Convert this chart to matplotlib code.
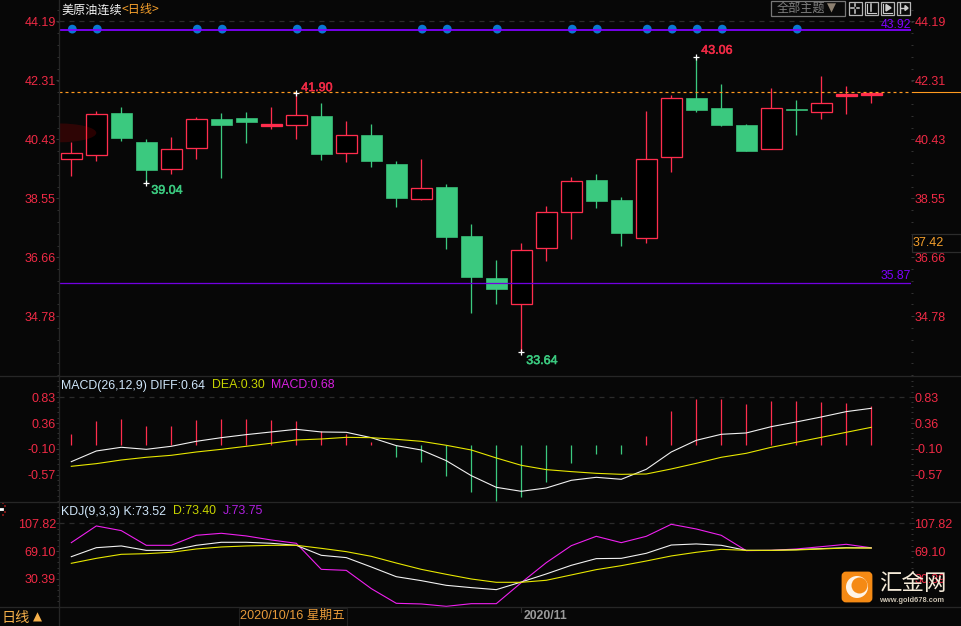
import matplotlib
matplotlib.use("Agg")
import matplotlib.pyplot as plt
import matplotlib.patheffects as pe
from matplotlib.patches import Rectangle, Ellipse, FancyBboxPatch, Circle
from matplotlib.ticker import AutoMinorLocator

# ---------- data ----------
opens = [39.79,39.93,41.26,40.34,39.49,40.16,41.07,41.10,40.85,40.89,41.17,40.00,40.56,39.64,38.53,38.90,37.34,36.00,
         35.18,36.97,38.12,39.13,38.49,37.29,39.87,41.74,41.42,40.88,40.13,41.39,41.31,41.81,41.84]
closes = [39.98,41.22,40.48,39.45,40.11,41.06,40.88,40.98,40.91,41.19,39.96,40.55,39.73,38.55,38.86,37.31,36.03,35.65,
          36.88,38.10,39.09,38.46,37.44,39.79,41.73,41.36,40.88,40.05,41.41,41.37,41.57,41.87,41.90]
highs = [40.33,41.32,41.45,40.44,40.50,41.14,41.27,41.30,41.46,41.90,41.58,41.01,40.91,39.73,39.80,38.99,37.72,36.58,
         37.12,38.30,39.22,39.32,38.58,41.33,41.84,43.06,42.19,40.91,42.06,41.68,42.44,42.13,41.92]
lows = [39.27,39.74,40.38,39.04,39.33,39.81,39.20,40.31,40.75,40.43,39.77,39.71,39.54,38.27,38.50,36.94,34.88,35.17,
        33.64,36.54,37.25,38.23,37.02,37.13,39.38,41.31,40.85,40.05,40.13,40.56,41.07,41.23,41.58]
signal_idx = [0,1,5,6,9,10,14,15,17,20,21,23,24,25,26,29]
upper_level = 43.91
lower_level = 35.85
last_level = 41.92
top_level = 44.19

macd_hist = [0.167,0.402,0.438,0.311,0.311,0.420,0.438,0.438,0.420,0.402,0.221,0.167,0.022,-0.249,-0.340,-0.593,-0.882,
             -1.045,-0.973,-0.701,-0.358,-0.195,-0.195,0.130,0.583,0.800,0.800,0.709,0.763,0.763,0.745,0.727,0.673]
macd_base = -0.026
diff = [-0.334,-0.141,-0.074,-0.111,-0.056,0.034,0.100,0.155,0.203,0.251,0.203,0.197,0.100,-0.044,-0.123,-0.316,-0.587,
        -0.798,-0.870,-0.810,-0.671,-0.617,-0.653,-0.472,-0.159,0.052,0.161,0.185,0.299,0.384,0.474,0.571,0.631]
dea = [-0.418,-0.370,-0.304,-0.255,-0.219,-0.159,-0.111,-0.056,0.000,0.058,0.076,0.106,0.100,0.070,0.034,-0.038,-0.123,
       -0.267,-0.400,-0.478,-0.514,-0.545,-0.563,-0.557,-0.466,-0.364,-0.255,-0.183,-0.074,0.016,0.106,0.197,0.287]

kdj_k = [61.4,73.9,76.3,70.2,70.2,77.2,81.4,81.4,80.0,77.2,63.3,60.1,47.1,33.6,28.1,21.6,18.4,15.6,26.2,37.4,49.4,58.7,
         59.1,66.1,77.6,79.1,77.2,70.2,70.2,71.2,72.6,73.9,73.5]
kdj_d = [52.2,59.1,64.7,65.6,67.5,72.1,74.9,76.3,77.2,77.2,73.0,68.4,61.9,52.6,43.8,36.9,30.4,25.8,25.8,28.6,36.0,43.4,
         48.9,55.4,62.4,67.5,71.6,70.2,70.2,70.7,72.1,73.5,73.4]
kdj_j = [80.9,104.1,97.6,77.2,77.2,91.1,93.9,90.2,84.6,80.0,43.8,42.4,17.0,-3.4,-4.3,-7.6,-3.9,-3.9,25.3,53.1,76.7,89.7,
         80.9,89.7,106.4,99.9,91.1,69.8,70.2,72.1,75.3,78.6,73.75]

main_ticks = [44.19,42.31,40.43,38.55,36.66,34.78]
macd_ticks = [0.83,0.36,-0.10,-0.57]
kdj_ticks = [107.82,69.10,30.39]
main_labels = ["44.19","42.31","40.43","38.55","36.66","34.78"]
macd_labels = ["0.83","0.36","-0.10","-0.57"]
kdj_labels = ["107.82","69.10","30.39"]

# ---------- style ----------
W, H = 961, 626
BG = "#070707"
RED = "#ff2d4d"
TXTRED = "#f02a45"
GREEN = "#3bc97f"
GRID = "#2b2b2b"
BORDER = "#262626"
ORANGE = "#f6a02c"
LATIN = "Liberation Sans"
CJK = ["Noto Sans CJK SC", "DejaVu Sans"]
plt.rcParams["font.family"] = [LATIN, "Noto Sans CJK SC", "DejaVu Sans"]
PX = 72 / 100
XMIN, XMAX = -0.48, 33.59
xs = list(range(len(opens)))

fig = plt.figure(figsize=(W / 100, H / 100), dpi=100, facecolor=BG)


def panel(top, bottom):
    ax = fig.add_axes([59.3 / W, 1 - bottom / H, (911 - 59.3) / W, (bottom - top) / H])
    ax.set_facecolor("none")
    ax.set_xlim(XMIN, XMAX)
    ax.set_xticks([])
    for side in ("top", "bottom", "left", "right"):
        ax.spines[side].set_visible(False)
    return ax


def set_ticks(ax, ticks, labels):
    ax.set_yticks(ticks)
    ax.set_yticklabels(labels, fontsize=9, color=TXTRED)
    ax.yaxis.set_minor_locator(AutoMinorLocator(5))
    ax.tick_params(axis="y", which="major", left=True, right=True, labelleft=True, labelright=True,
                   length=2, width=0.7, color="#3a3a3a", pad=0.5)
    ax.tick_params(axis="y", which="minor", left=True, right=True, length=1.2, width=0.7, color="#333333")


# ---------- main panel ----------
ax = panel(0, 376)
ax.set_ylim(32.875, 44.869)
set_ticks(ax, main_ticks, main_labels)
ax.hlines(top_level, XMIN, XMAX, color=GRID, lw=0.9, linestyles=(0, (4, 4)), zorder=1)
for i in xs:
    up = closes[i] >= opens[i]
    col = RED if up else GREEN
    ax.vlines(i, lows[i], highs[i], color=col, lw=1.3 * PX, zorder=3)
    lo, hi = min(opens[i], closes[i]), max(opens[i], closes[i])
    flat = hi - lo < 0.1
    ax.add_patch(Rectangle((i - 0.41, lo), 0.82, hi - lo, fc=col if (flat or not up) else "#000000", ec=col,
                           lw=1.3 * PX * (1 if up else 0.5), zorder=4))
ax.add_patch(Ellipse((XMIN, 40.63), 2.96, 0.60, fc="#ff0000", alpha=0.16, ec="none", zorder=5))
ax.hlines(last_level, XMIN, XMAX, color="#ff9a1f", lw=1.2 * PX, linestyles=(0, (2.5, 2.5)), zorder=5)
ax.scatter([i + 0.04 for i in signal_idx], [upper_level + 0.03] * len(signal_idx), s=40, color="#0a78d2",
           edgecolors="none", zorder=5)
ax.hlines(upper_level, XMIN, XMAX, color="#7f00ff", lw=1.8 * PX, zorder=6)
ax.hlines(lower_level, XMIN, XMAX, color="#7200e0", lw=1.3 * PX, zorder=6)
for i, val, col, dx, dy in [(9, highs[9], TXTRED, 5, 5), (3, lows[3], GREEN, 5, -8),
                            (25, highs[25], TXTRED, 5, 6), (18, lows[18], GREEN, 5, -9)]:
    ax.plot([i], [val], marker="+", ms=5, mew=0.9, color="white", zorder=7)
    ax.annotate(f"{val:.2f}", (i, val), xytext=(dx, dy), textcoords="offset pixels", color=col, fontsize=9,
                va="center", ha="left", zorder=8,
                path_effects=[pe.withStroke(linewidth=0.4, foreground=col)])

# ---------- MACD panel ----------
ax2 = panel(376, 501.7)
ax2.set_ylim(-1.058, 1.215)
set_ticks(ax2, macd_ticks, macd_labels)
ax2.hlines(macd_ticks[0], XMIN, XMAX, color=GRID, lw=0.9, linestyles=(0, (4, 4)), zorder=1)
for i, v in zip(xs, macd_hist):
    ax2.vlines(i, macd_base, v, color=RED if v > macd_base else GREEN, lw=1.25 * PX, zorder=2)
ax2.plot(xs, diff, color="#f2f2f2", lw=1.1 * PX, zorder=3)
ax2.plot(xs, dea, color="#e8e800", lw=1.1 * PX, zorder=4)

# ---------- KDJ panel ----------
ax3 = panel(501.7, 607.3)
ax3.set_ylim(-8.94, 137.8)
set_ticks(ax3, kdj_ticks, kdj_labels)
ax3.hlines(kdj_ticks[0], XMIN, XMAX, color=GRID, lw=0.9, linestyles=(0, (4, 4)), zorder=1)
ax3.plot(xs, kdj_j, color="#f020f0", lw=1.1 * PX, zorder=3)
ax3.plot(xs, kdj_k, color="#f2f2f2", lw=1.1 * PX, zorder=4)
ax3.plot(xs, kdj_d, color="#e8e800", lw=1.1 * PX, zorder=5)

# ---------- chrome overlay, in pixel coordinates ----------
ov = fig.add_axes([0, 0, 1, 1], zorder=20)
ov.set_xlim(0, W)
ov.set_ylim(H, 0)
ov.axis("off")
ov.patch.set_alpha(0)


def T(x, y, s, color, size=8.8, ha="left", family=None, **kw):
    ov.text(x, y, s, color=color, fontsize=size, ha=ha, va="center", family=family or [LATIN, "Noto Sans CJK SC"], **kw)


for y in (376, 501.7, 607.3):
    ov.plot([0, W], [y, y], color=BORDER, lw=1.3 * PX)
ov.plot([59.3, 59.3], [0, H], color=BORDER, lw=1.3 * PX)
ov.plot([912, W], [92.3, 92.3], color="#ff9a1f", lw=1.1 * PX)

T(61, 10, "美原油连续", "#f4f4f4", 8.7, family=CJK)
T(121, 10, "<日线>", ORANGE, 8.7, family=CJK)

T(61, 385.5, "MACD(26,12,9) DIFF:0.64", "#cfe6fa", 8.9)
T(212, 385.5, "DEA:0.30", "#c8d400", 8.9)
T(271, 385.5, "MACD:0.68", "#d81fe0", 8.9)
T(61, 511.5, "KDJ(9,3,3) K:73.52", "#cfe6fa", 8.9)
T(173, 511.5, "D:73.40", "#c8d400", 8.9)
T(223, 511.5, "J:73.75", "#b020e0", 8.9)

T(911, 25, "43.92", "#7f00ff", 8.8, ha="right")
T(911, 276, "35.87", "#7f00ff", 8.8, ha="right")
ov.add_patch(Rectangle((911.7, 234.3), 49, 17.4, fc=BG, ec="#2c2c2c", lw=0.9))
T(913, 243, "37.42", ORANGE, 9)

# toolbar
ov.add_patch(Rectangle((770.5, 1), 74, 14.5, fc="#0a0a0a", ec="#777777", lw=0.9))
T(777, 8.5, "全部主题", "#7f7f7f", 8.7, family=CJK)
T(827, 8.5, "▼", "#8c8070", 8.5, family=["DejaVu Sans"])
for x0 in (848.5, 864.5, 880.5, 896.5):
    ov.add_patch(Rectangle((x0, 1.5), 13, 13.5, fc="#0a0a0a", ec="#b5b5b5", lw=0.9))
ov.plot([851, 853.5], [8, 8], color="#cccccc", lw=1.1)
ov.plot([856.5, 859], [8, 8], color="#cccccc", lw=1.1)
ov.plot([855, 855], [4, 6], color="#cccccc", lw=1.1)
ov.plot([855, 855], [10, 12.5], color="#cccccc", lw=1.1)
ov.plot([867, 867, 875.5], [3.5, 12.5, 12.5], color="#cccccc", lw=0.8)
ov.plot([871, 871], [4, 11], color="#cccccc", lw=1.1)
ov.plot([883, 883, 891.5], [3.5, 12.5, 12.5], color="#cccccc", lw=0.8)
ov.fill([886, 886, 891], [4.5, 11, 7.8], color="#cccccc")
ov.plot([900, 900], [3, 13], color="#cccccc", lw=1.0)
ov.plot([901, 907], [8, 8], color="#cccccc", lw=1.0)
ov.fill([905, 905, 908], [5.5, 10.5, 8], color="#cccccc")

# bottom strip
T(2, 618, "日线", "#f6b04a", 10.2, family=CJK)
T(33, 617.5, "▲", "#f6b04a", 8.5, family=["DejaVu Sans"])
ov.add_patch(Rectangle((239, 608), 108, 18, fc="none", ec="#1f1f1f", lw=0.8))
T(240.5, 616, "2020/10/16 星期五", "#e79a3a", 9.1, family=[LATIN, "Noto Sans CJK SC"])
T(523.5, 616, "2020/11", "#9a9a9a", 8.8, fontweight="bold")
ov.plot([521.3, 521.3], [608, 612], color="#333333", lw=0.8)

# left marker glitch
ov.plot([0, 2], [509, 509], color="white", lw=2)
ov.scatter([3, 5, 5, 3], [503, 506, 512, 515], s=1.5, color="#d02020", edgecolors="none")

# logo
ov.add_patch(FancyBboxPatch((843, 573), 28, 28, boxstyle="round,pad=0,rounding_size=3", fc="#f58a14",
                            ec="#f58a14", lw=2))
ov.add_patch(Circle((857, 587), 11, fc="#fff4e6", ec="none"))
ov.add_patch(Circle((859.5, 585.5), 8, fc="#f58a14", ec="none"))
T(879, 583, "汇金网", "#f4ead8", 16.2, family=["Noto Sans CJK SC"], fontweight="medium")
T(879.5, 600, "www.gold678.com", "#c9c0b0", 5.4, fontweight="bold")

fig.savefig("out.png", dpi=100, facecolor=BG)
